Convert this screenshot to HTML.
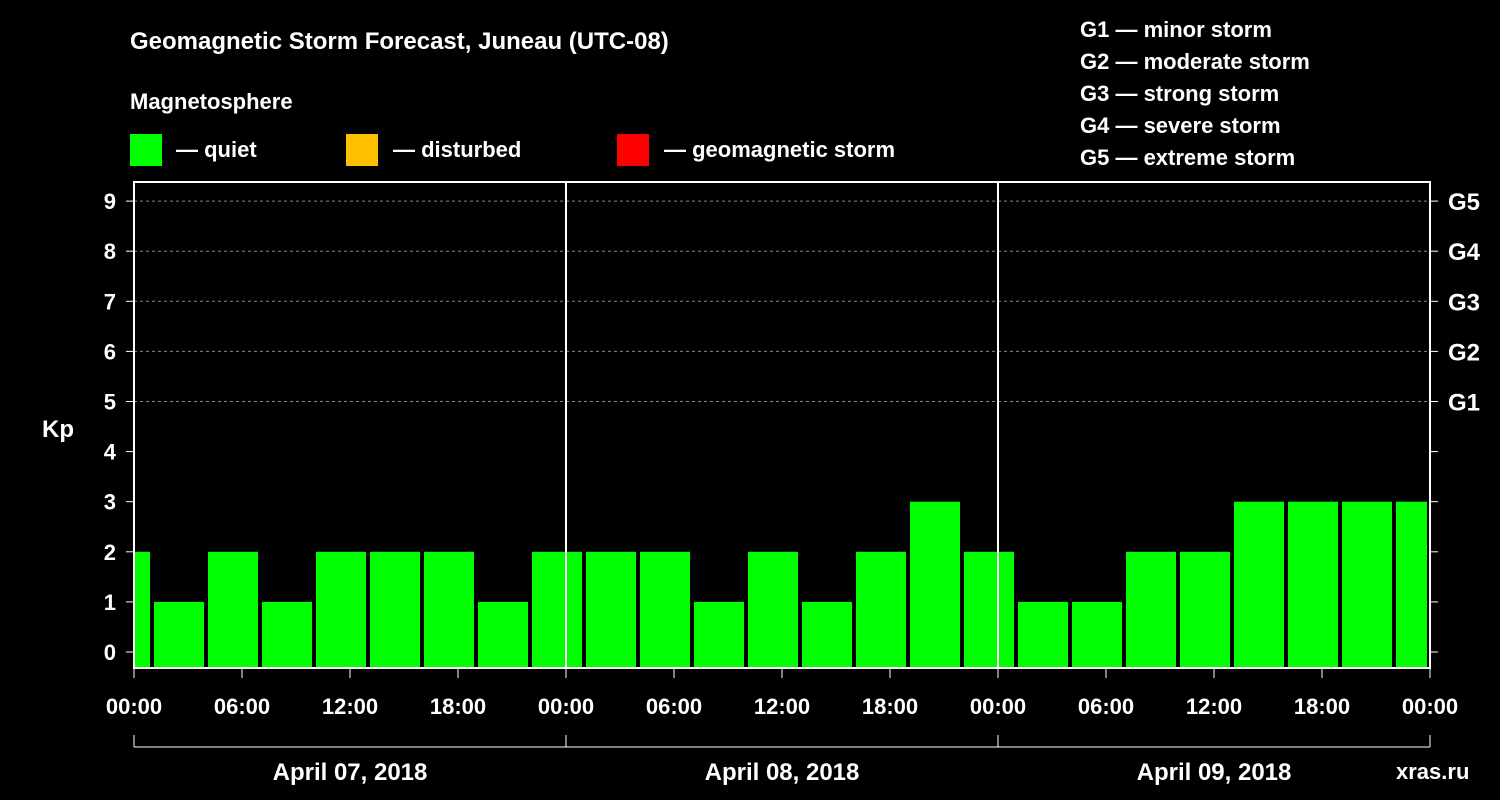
<!DOCTYPE html>
<html><head><meta charset="utf-8"><style>
html,body{margin:0;padding:0;background:#000;}
svg{display:block;font-family:"Liberation Sans",sans-serif;font-weight:bold;}
</style></head><body>
<svg id="chart" width="1500" height="800" xmlns="http://www.w3.org/2000/svg">
<rect width="1500" height="800" fill="#000"/>
<text x="130" y="49" fill="#fff" font-size="24">Geomagnetic Storm Forecast, Juneau (UTC-08)</text>
<text x="130" y="109" fill="#fff" font-size="22">Magnetosphere</text>
<g><rect x="130" y="134" width="32" height="32" fill="#00ff00"/><text x="176" y="157" fill="#fff" font-size="22">— quiet</text></g>
<g><rect x="346" y="134" width="32" height="32" fill="#ffc000"/><text x="393" y="157" fill="#fff" font-size="22">— disturbed</text></g>
<g><rect x="617" y="134" width="32" height="32" fill="#ff0000"/><text x="664" y="157" fill="#fff" font-size="22">— geomagnetic storm</text></g>
<g fill="#fff" font-size="22">
<text x="1080" y="37">G1 — minor storm</text>
<text x="1080" y="69">G2 — moderate storm</text>
<text x="1080" y="101">G3 — strong storm</text>
<text x="1080" y="133">G4 — severe storm</text>
<text x="1080" y="165">G5 — extreme storm</text>
</g>
<text x="42" y="437" fill="#fff" font-size="24">Kp</text>
<text x="1396" y="779" fill="#fff" font-size="22">xras.ru</text>
<g id="layer"></g>
</svg>
<script>
const kpValues=[2,1,2,1,2,2,2,1,2,2,2,1,2,1,2,3,2,1,1,2,2,3,3,3,3];
const firstBlockHour=-2; // first 3h block starts at 22:00 previous day
const yTicks=[0,1,2,3,4,5,6,7,8,9];
const gLabels=["G1","G2","G3","G4","G5"];
const xTickLabels=["00:00","06:00","12:00","18:00","00:00","06:00","12:00","18:00","00:00","06:00","12:00","18:00","00:00"];
const dayLabels=["April 07, 2018","April 08, 2018","April 09, 2018"];

const X0=134,X1=1430,HOURS=72,YT=182,YB=668;
const xs=h=>X0+(X1-X0)*h/HOURS;
const ys=k=>652-50.1*k;
const NS="http://www.w3.org/2000/svg";
const layer=document.getElementById('layer');
function mk(t,a){const e=document.createElementNS(NS,t);for(const k in a)e.setAttribute(k,a[k]);layer.appendChild(e);return e;}

// grid lines
for(const k of yTicks){
  if(k>=5){const l=mk('line',{x1:X0,x2:X1,y1:ys(k),y2:ys(k),stroke:'#888','stroke-dasharray':'3,3','stroke-width':1});
  
  }
  const t=mk('text',{x:116,y:ys(k)+8,fill:'#fff','font-size':22,'text-anchor':'end'});t.textContent=k;
  
  
  const tl=mk('line',{x1:X0-8,x2:X0,y1:ys(k),y2:ys(k),stroke:'#fff','stroke-width':1});
  
  
  const tr=mk('line',{x1:X1,x2:X1+8,y1:ys(k),y2:ys(k),stroke:'#fff','stroke-width':1});
  
  
}
gLabels.forEach((g,i)=>{const t=mk('text',{x:1448,y:ys(i+5)+9,fill:'#fff','font-size':24});t.textContent=g;
  
  });

// bars
kpValues.forEach((v,i)=>{
  let h0=firstBlockHour+3*i, h1=h0+3;
  let a=xs(h0)+2, b=xs(h1)-2;
  a=Math.max(a,X0+1); b=Math.min(b,X1-3);
  const r=mk('rect',{x:a,y:ys(v),width:b-a,height:YB-ys(v),fill:v>=5?'#ff0000':(v>=4?'#ffc000':'#00ff00')});
  
  
});

// frame and day separators
const fr=mk('rect',{x:X0,y:YT,width:X1-X0,height:YB-YT,fill:'none',stroke:'#fff','stroke-width':2});


for(let d=1;d<3;d++){const l=mk('line',{x1:xs(24*d),x2:xs(24*d),y1:YT,y2:YB,stroke:'#fff','stroke-width':2});
  
  }

// x ticks
xTickLabels.forEach((s,i)=>{const x=xs(6*i);
  const l=mk('line',{x1:x,x2:x,y1:YB,y2:YB+10,stroke:'#fff','stroke-width':1});
  
  
  const t=mk('text',{x:x,y:714,fill:'#fff','font-size':22,'text-anchor':'middle'});t.textContent=s;
  
  });

// date bracket
const bl=mk('line',{x1:X0,x2:X1,y1:747,y2:747,stroke:'#fff','stroke-width':1});


for(let d=0;d<=3;d++){const l=mk('line',{x1:xs(24*d),x2:xs(24*d),y1:735,y2:747,stroke:'#fff','stroke-width':1});
  
  }
dayLabels.forEach((s,i)=>{const t=mk('text',{x:xs(24*i+12),y:780,fill:'#fff','font-size':24,'text-anchor':'middle'});t.textContent=s;
  
  });
</script>
</body></html>
